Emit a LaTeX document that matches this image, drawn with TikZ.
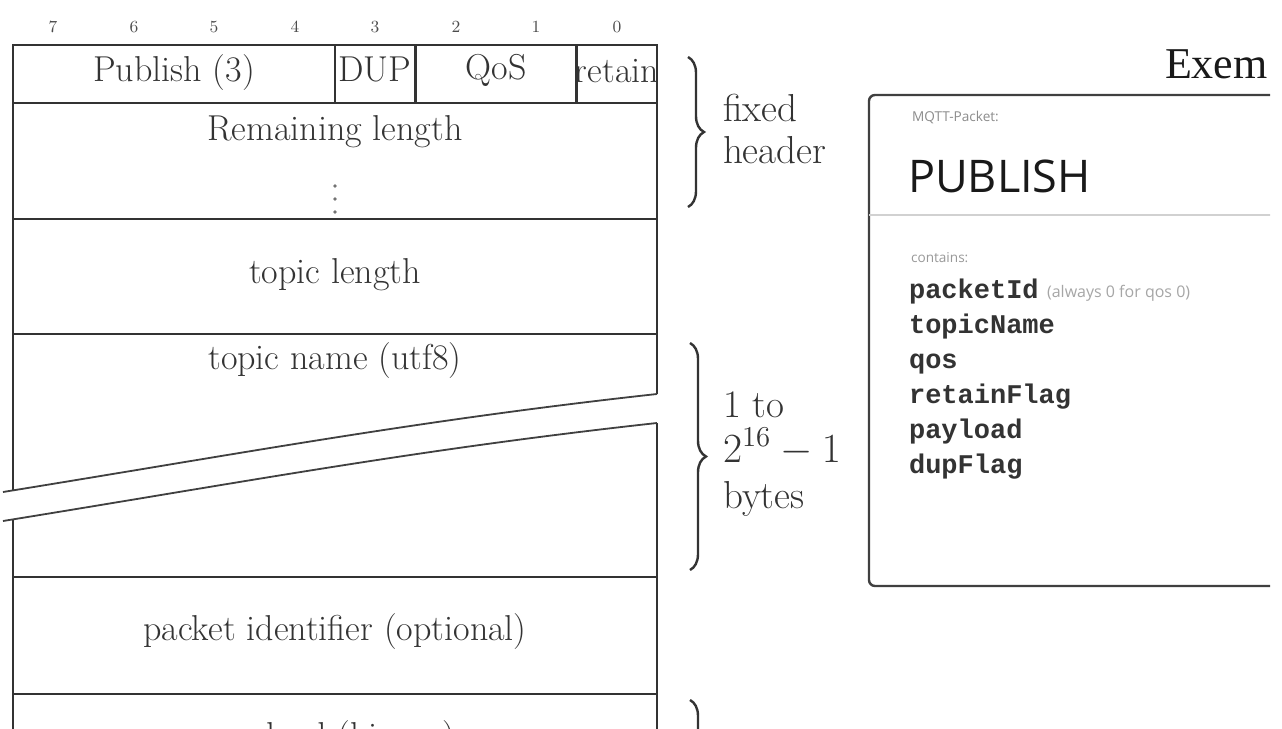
\documentclass[tikz,border=0pt]{standalone}
\usepackage{fontspec}
\newfontfamily\uisans{Open Sans}
\newfontfamily\codefont{Liberation Mono}
\newfontfamily\titleserif{Liberation Serif}
\usetikzlibrary{decorations.pathreplacing}

\begin{document}
\begin{tikzpicture}[x=0.5pt,y=-0.5pt,
  tline/.style={black!80,line width=1.2pt},
  field/.style={text=black!80,anchor=base,font=\fontsize{18}{21}\selectfont},
  bitno/.style={text=black!70,font=\fontsize{8.5}{10}\selectfont},
  side/.style={text=black!80,anchor=base west,font=\fontsize{19.5}{23}\selectfont},
  curly/.style={decorate,decoration={brace,amplitude=8pt},black!80,line width=1.2pt},
  code/.style={text=black!80,anchor=base west,font=\codefont\bfseries\fontsize{13.5}{16}\selectfont},
  hint/.style={text=black!35,anchor=base west,font=\uisans\fontsize{8}{9}\selectfont}]
\useasboundingbox (0,0) rectangle (1282,729);
\fill[white] (0,0) rectangle (1282,729);

% bit numbers
\node[bitno] (b7) at (53,27) {7};
\node[bitno] (b6) at (134,27) {6};
\node[bitno] (b5) at (214,27) {5};
\node[bitno] (b4) at (295,27) {4};
\node[bitno] (b3) at (375,27) {3};
\node[bitno] (b2) at (456,27) {2};
\node[bitno] (b1) at (536,27) {1};
\node[bitno] (b0) at (617,27) {0};

% packet fields
\node[field] (pub) at (174,81) {Publish (3)};
\node[field] (dup) at (375,81) {DUP};
\node[field] (qos) at (496,79) {QoS};
\node[field] (ret) at (617,82) {retain};
\node[field] (remlen) at (335,140) {Remaining length};
\fill[black!55] (335,186) circle (0.9pt) (335,199) circle (0.9pt) (335,212) circle (0.9pt);
\node[field] (toplen) at (335,283) {topic length};
\node[field] (topname) at (335,369) {topic name (utf8)};
\node[field] (pid) at (335,640) {packet identifier (optional)};
\node[field] (payload) at (335,747) {payload (binary)};

% table lines
\draw[tline] (13,490) -- (13,45) -- (657,45) -- (657,394);
\draw[tline] (657,423) -- (657,760);
\draw[tline] (13,520) -- (13,760);
\draw[tline] (13,103) -- (657,103);
\draw[tline] (13,219) -- (657,219);
\draw[tline] (13,334) -- (657,334);
\draw[tline] (13,577) -- (657,577);
\draw[tline] (13,694) -- (657,694);
\draw[tline] (335,45) -- (335,103);
\draw[tline] (415.5,45) -- (415.5,103);
\draw[tline] (576.5,45) -- (576.5,103);
% cut through topic name
\draw[black!75,line width=0.9pt] (3,492) .. controls (250,452) and (420,420) .. (657,394);
\draw[black!75,line width=0.9pt] (3,521) .. controls (250,481) and (420,449) .. (657,423);

% braces
\draw[curly] (688,57) -- (688,207);
\node[side] (fixed) at (716,121) {fixed};
\node[side] (header) at (716,163) {header};
\draw[curly] (690,343) -- (690,570);
\node[side] (oneto) at (716,417) {1 to};
\node[side] (range) at (716,462) {$2^{16}-1$};
\node[side] (bytes) at (716,508) {bytes};
\draw[curly] (690,700) -- (690,850);

% packet card
\begin{scope}
\clip (0,0) rectangle (1270,729);
\node[anchor=base west,text=black!90,font=\titleserif\fontsize{22}{25}\selectfont] (exem) at (1158,78) {Exem};
\draw[black!75,line width=1.2pt,rounded corners=3pt] (1290,95) -- (869,95) -- (869,586) -- (1290,586);
\draw[black!18,line width=0.6pt] (869,215) -- (1290,215);
\node[anchor=base west,text=black!45,font=\uisans\fontsize{6.8}{8}\selectfont] (kind) at (905,121) {MQTT-Packet:};
\node[anchor=base west,text=black!90,font=\uisans\fontsize{22.5}{26}\selectfont] (title) at (901,192) {PUBLISH};
\node[anchor=base west,text=black!40,font=\uisans\fontsize{6.8}{8}\selectfont] (contains) at (904,262) {contains:};
\node[code] (f1) at (902,298) {packetId};
\node[hint] (note) at (1040,297) {(always 0 for qos 0)};
\node[code] (f2) at (902,333) {topicName};
\node[code] (f3) at (902,368) {qos};
\node[code] (f4) at (902,403) {retainFlag};
\node[code] (f5) at (902,438) {payload};
\node[code] (f6) at (902,473) {dupFlag};
\end{scope}
\end{tikzpicture}
\end{document}
